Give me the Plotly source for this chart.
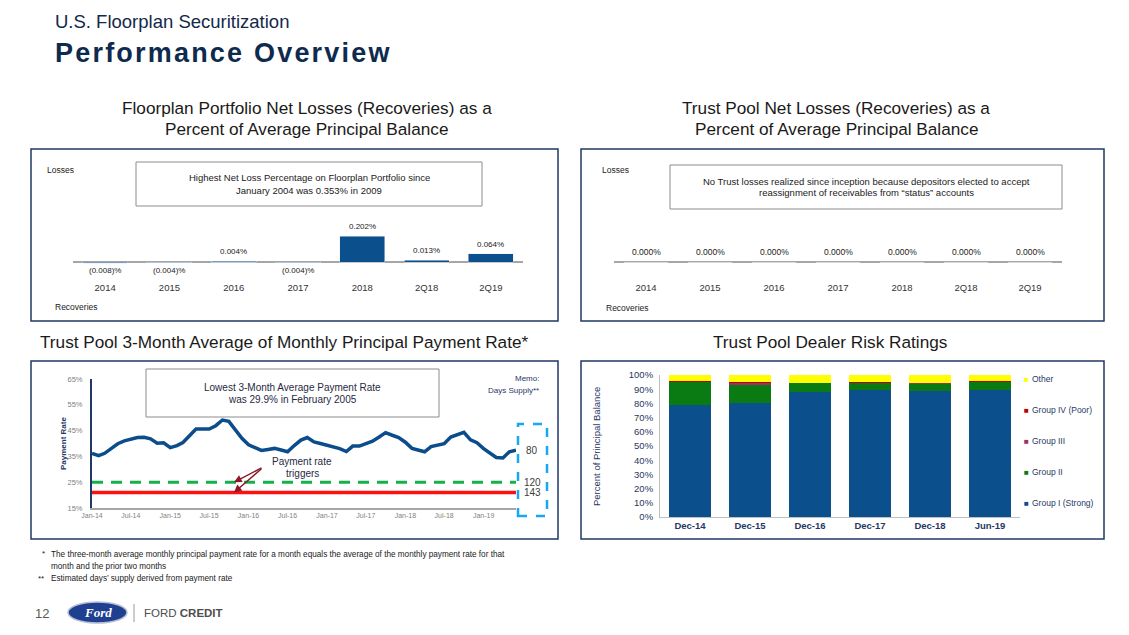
import plotly.graph_objects as go
import pandas as pd

# The page body has an 8px margin, so the figure is sized to fit the window
# and all positions below are given in window pixels.
OFF = 8
W, H = 1129 - OFF, 635 - OFF
FONT = "Liberation Sans, Arial, Helvetica, sans-serif"
NAVY = "#1F3864"
TITLE_NAVY = "#0E2A4E"
DARK = "#1A1A1A"
FORD_BLUE = "#0B4F8C"
AX_GREY = "#A6A6A6"
TXT_GREY = "#7F7F7F"


def X(p):
    return (p - OFF) / W


def Y(p):
    return 1 - (p - OFF) / H


# ---------------- data ----------------
loss_categories = ["2014", "2015", "2016", "2017", "2018", "2Q18", "2Q19"]
portfolio_net_loss_pct = [-0.008, -0.004, 0.004, -0.004, 0.202, 0.013, 0.064]
trust_net_loss_pct = [0.000, 0.000, 0.000, 0.000, 0.000, 0.000, 0.000]

payment_months = pd.date_range("2014-01-01", "2019-06-01", freq="MS")
payment_rate_3m_avg = [
    36.2, 35.3, 36.2, 38.0, 39.9, 41.0, 41.7, 42.3, 42.4, 41.8, 40.1, 40.3,
    38.4, 39.2, 40.4, 43.0, 45.6, 45.6, 45.6, 46.9, 49.1, 48.6, 45.5, 42.0,
    39.5, 38.2, 37.3, 37.7, 38.1, 37.5, 36.8, 39.2, 41.3, 42.3, 40.6, 40.0,
    39.4, 38.7, 38.0, 36.9, 39.0, 39.0, 39.8, 40.9, 42.5, 44.2, 43.2, 42.3,
    40.5, 38.1, 37.5, 36.8, 38.8, 39.5, 39.9, 42.5, 43.4, 44.3, 41.4, 40.3,
    38.0, 36.0, 34.6, 34.4, 36.8, 37.4,
]
trigger_rate_upper = 25.0
trigger_rate_lower = 21.0
days_in_month = 30

rating_periods = ["Dec-14", "Dec-15", "Dec-16", "Dec-17", "Dec-18", "Jun-19"]
group_i_strong = [78.8, 80.0, 88.0, 89.4, 88.7, 89.6]
group_ii = [16.3, 13.6, 6.4, 5.3, 5.6, 5.8]
group_iii = [0.4, 1.2, 0.2, 0.1, 0.2, 0.1]
group_iv_poor = [0.2, 0.3, 0.1, 0.1, 0.1, 0.1]
other = [4.3, 4.9, 5.3, 5.1, 5.4, 4.4]

rating_colors = {
    "Group I (Strong)": "#0B4F8C",
    "Group II": "#0A7A12",
    "Group III": "#993366",
    "Group IV (Poor)": "#C00000",
    "Other": "#FFFF00",
}


def pct_label(v):
    return f"({abs(v):.3f})%" if v < 0 else f"{v:.3f}%"


fig = go.Figure()

fig.add_trace(go.Bar(
    x=loss_categories, y=portfolio_net_loss_pct, marker_color=FORD_BLUE,
    width=0.7, xaxis="x", yaxis="y", showlegend=False, hoverinfo="skip",
))
fig.add_trace(go.Bar(
    x=loss_categories, y=trust_net_loss_pct, marker_color=FORD_BLUE,
    width=0.7, xaxis="x2", yaxis="y2", showlegend=False, hoverinfo="skip",
))

fig.add_trace(go.Scatter(
    x=[payment_months[0], payment_months[-1]],
    y=[trigger_rate_upper, trigger_rate_upper], mode="lines",
    line=dict(color="#16B04A", width=3, dash="11px,8px"),
    xaxis="x3", yaxis="y3", showlegend=False, hoverinfo="skip",
))
fig.add_trace(go.Scatter(
    x=[payment_months[0], payment_months[-1]],
    y=[trigger_rate_lower, trigger_rate_lower], mode="lines",
    line=dict(color="#FF1010", width=3.5),
    xaxis="x3", yaxis="y3", showlegend=False, hoverinfo="skip",
))
fig.add_trace(go.Scatter(
    x=payment_months, y=payment_rate_3m_avg, mode="lines",
    line=dict(color="#0B4C8A", width=3.5),
    xaxis="x3", yaxis="y3", showlegend=False, hoverinfo="skip",
))

for name, vals in [("Group I (Strong)", group_i_strong), ("Group II", group_ii),
                   ("Group III", group_iii), ("Group IV (Poor)", group_iv_poor),
                   ("Other", other)]:
    fig.add_trace(go.Bar(
        x=rating_periods, y=vals, name=name, marker_color=rating_colors[name],
        marker_line_width=0, xaxis="x4", yaxis="y4", showlegend=False,
        hoverinfo="skip",
    ))

ZERO_PX = 262
PX_PER_PCT = 126.7
yr_top = (ZERO_PX - 225) / PX_PER_PCT
yr_bot = -(280 - ZERO_PX) / PX_PER_PCT

common_cat = dict(type="category", range=[-0.5, 6.5], showgrid=False, zeroline=False,
                  showline=False, ticks="", automargin=False,
                  tickfont=dict(size=9.5, color="#333333"))
common_lossy = dict(range=[yr_bot, yr_top], showgrid=False, showticklabels=False,
                    automargin=False,
                    zeroline=True, zerolinecolor=AX_GREY, zerolinewidth=2, ticks="")

fig.update_layout(
    width=W, height=H, autosize=False,
    margin=dict(l=0, r=0, t=0, b=0, pad=0, autoexpand=False),
    paper_bgcolor="white", plot_bgcolor="white",
    font=dict(family=FONT, color=DARK),
    barmode="stack", bargap=0.3,
    xaxis=dict(domain=[X(73), X(523)], anchor="y", **common_cat),
    yaxis=dict(domain=[Y(280), Y(225)], anchor="x", **common_lossy),
    xaxis2=dict(domain=[X(614), X(1062)], anchor="y2", **common_cat),
    yaxis2=dict(domain=[Y(280), Y(225)], anchor="x2", **common_lossy),
    xaxis3=dict(domain=[X(92), X(516)], anchor="y3", type="date", automargin=False,
                range=[payment_months[0], payment_months[-1]],
                tickformat="%b-%y", dtick="M6", tick0="2014-01-01",
                showgrid=False, zeroline=False, showline=True,
                linecolor=AX_GREY, linewidth=1.5, ticks="",
                tickfont=dict(size=7, color=TXT_GREY)),
    yaxis3=dict(domain=[Y(508), Y(379)], anchor="x3", range=[15, 65], dtick=10, tick0=15,
                ticksuffix="%", showgrid=False, zeroline=False, showline=True,
                automargin=False,
                linecolor=NAVY, linewidth=2, ticks="", ticklabelstandoff=6,
                tickfont=dict(size=7.5, color=TXT_GREY)),
    xaxis4=dict(domain=[X(660), X(1020)], anchor="y4", type="category", automargin=False,
                showgrid=False, zeroline=False, showline=True,
                linecolor="#BFBFBF", linewidth=1, ticks="",
                tickfont=dict(size=9.5, color=NAVY, weight="bold")),
    yaxis4=dict(domain=[Y(517), Y(375)], anchor="x4", range=[0, 100], dtick=10,
                automargin=False,
                ticksuffix="%", showgrid=False, zeroline=False, showline=True,
                linecolor="#BFBFBF", linewidth=1, ticks="", ticklabelstandoff=4,
                tickfont=dict(size=9.5, color=NAVY)),
)

shapes = []
ann = []


def rect(x0, y0, x1, y1, color, width=1.0, dash=None):
    line = dict(color=color, width=width)
    if dash:
        line["dash"] = dash
    shapes.append(dict(type="rect", xref="paper", yref="paper",
                       x0=X(x0), x1=X(x1), y0=Y(y1), y1=Y(y0),
                       line=line, fillcolor="rgba(0,0,0,0)"))


def text(x, y, s, size=9, color=DARK, xanchor="center", yanchor="middle", **kw):
    ann.append(dict(xref="paper", yref="paper", x=X(x), y=Y(y), text=s,
                    showarrow=False, xanchor=xanchor, yanchor=yanchor,
                    font=dict(size=size, color=color, family=kw.pop("family", FONT)),
                    **kw))


# panel frames
rect(31, 149, 558, 321, NAVY, 1.5)
rect(581, 149, 1104, 321, NAVY, 1.5)
rect(31, 361, 558, 539, NAVY, 1.5)
rect(581, 361, 1104, 539, NAVY, 1.5)

# heading
text(53, 22, "U.S. Floorplan Securitization", size=18.5, color="#14284B", xanchor="left")
text(53, 53, '<b><span style="letter-spacing:2.2px">Performance Overview</span></b>',
     size=27, color=TITLE_NAVY, xanchor="left")

# section titles
text(307, 108, "Floorplan Portfolio Net Losses (Recoveries) as a", size=17.2)
text(307, 129, "Percent of Average Principal Balance", size=17.2)
text(836, 108, "Trust Pool Net Losses (Recoveries) as a", size=17.2)
text(836, 129, "Percent of Average Principal Balance", size=17.2)
text(284, 342, "Trust Pool 3-Month Average of Monthly Principal Payment Rate*", size=17.2)
text(830, 342, "Trust Pool Dealer Risk Ratings", size=17.2)

# top-left panel
text(45, 170, "Losses", size=8.5, xanchor="left")
text(53, 307, "Recoveries", size=8.5, xanchor="left")
rect(136, 162, 482, 206, "#8C8C8C", 1)
text(309, 178, "Highest Net Loss Percentage on Floorplan Portfolio since", size=9.5)
text(309, 190, "January 2004 was 0.353% in 2009", size=9.5)
for i, v in enumerate(portfolio_net_loss_pct):
    if v >= 0:
        ann.append(dict(xref="x", yref="y", x=i, y=v, text=pct_label(v), showarrow=False,
                        yanchor="bottom", yshift=3, font=dict(size=8, color=DARK)))
    else:
        ann.append(dict(xref="x", yref="paper", x=i, y=Y(271), text=pct_label(v),
                        showarrow=False, yanchor="middle", font=dict(size=8, color=DARK)))

# top-right panel
text(600, 170, "Losses", size=8.5, xanchor="left")
text(604, 308, "Recoveries", size=8.5, xanchor="left")
rect(670, 165, 1062, 209, "#8C8C8C", 1)
text(866, 181, "No Trust losses realized since inception because depositors elected to accept", size=9.5)
text(866, 193, "reassignment of receivables from \u201cstatus\u201d accounts", size=9.5)
for i, v in enumerate(trust_net_loss_pct):
    ann.append(dict(xref="x2", yref="y2", x=i, y=v, text=pct_label(v), showarrow=False,
                    yanchor="bottom", yshift=3, font=dict(size=8.5, color=DARK)))

# bottom-left panel
rect(146, 369, 439, 417, "#8C8C8C", 1)
text(292, 387, "Lowest 3-Month Average Payment Rate", size=10, color="#1F2A44")
text(292, 399, "was 29.9% in February 2005", size=10, color="#1F2A44")
text(63, 444, "<b>Payment Rate</b>", size=8, color=NAVY, textangle=-90)
text(541, 378, "Memo:", size=8, color=NAVY, xanchor="right")
text(541, 390, "Days Supply**", size=8, color=NAVY, xanchor="right")
text(302, 461, "Payment rate", size=10, color="#1F2A44")
text(302, 473, "triggers", size=10, color="#1F2A44")
for yv, ay in [(trigger_rate_upper, -15), (trigger_rate_lower, -25)]:
    ann.append(dict(xref="x3", yref="y3", x="2015-10-25", y=yv, text="",
                    showarrow=True, ax=29, ay=ay, arrowhead=2, arrowsize=1.1,
                    arrowwidth=1.4, arrowcolor="#8B1A2B"))
rect(518, 424, 547, 516, "#16A8F0", 2.5, dash="dash")
for rate in [payment_rate_3m_avg[-1], trigger_rate_upper, trigger_rate_lower]:
    ann.append(dict(xref="paper", yref="y3", x=X(532), y=rate,
                    text=str(round(days_in_month / (rate / 100))), showarrow=False,
                    font=dict(size=10, color="#404040")))

# bottom-right panel
text(596, 447, "Percent of Principal Balance", size=9.5, color=NAVY, textangle=-90)
legend_rows = [("Other", 379), ("Group IV (Poor)", 410), ("Group III", 441),
               ("Group II", 472), ("Group I (Strong)", 503)]
for name, yy in legend_rows:
    text(1022, yy, f'<span style="color:{rating_colors[name]}">\u25A0</span>',
         size=8, xanchor="left")
    text(1030, yy, name, size=8.5, color=NAVY, xanchor="left")

# footnotes
text(40, 553, "*", size=8, xanchor="left")
text(49, 554, "The three-month average monthly principal payment rate for a month equals "
     "the average of the monthly payment rate for that", size=8.2, xanchor="left")
text(49, 566, "month and the prior two months", size=8.2, xanchor="left")
text(36, 578, "**", size=8, xanchor="left")
text(49, 578, "Estimated days\u2019 supply derived from payment rate", size=8.2, xanchor="left")

# footer
text(33, 613, "12", size=13, color="#595959", xanchor="left")
shapes.append(dict(type="circle", xref="paper", yref="paper",
                   x0=X(68), x1=X(127), y0=Y(623), y1=Y(602),
                   fillcolor="#1F3F91", line=dict(color="#B8C0D4", width=1.5)))
text(97.5, 612.5, "<i><b>Ford</b></i>", size=13, color="white",
     family="Liberation Serif, DejaVu Serif, serif")
shapes.append(dict(type="line", xref="paper", yref="paper",
                   x0=X(134), x1=X(134), y0=Y(604), y1=Y(622),
                   line=dict(color="#9A9A9A", width=1)))
text(142, 613, "FORD <b>CREDIT</b>", size=11.5, color="#4D4D4D", xanchor="left")

fig.update_layout(shapes=shapes, annotations=ann)
fig.write_html("out.html")
